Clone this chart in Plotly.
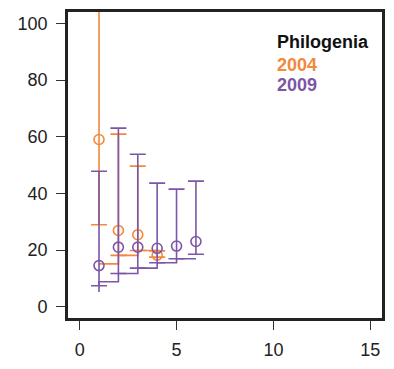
import plotly.graph_objects as go

# 2004 series
x_2004 = [1, 2, 3, 4]
mean_2004 = [59.0, 26.9, 25.4, 18.2]
low_2004 = [28.9, 18.1, 19.8, 17.5]
high_2004 = [112.0, 60.9, 49.6, 19.7]
step_2004 = [15.1, 18.1, 19.8, 19.8]

# 2009 series
x_2009 = [1, 2, 3, 4, 5, 6]
mean_2009 = [14.5, 21.0, 21.0, 20.6, 21.4, 23.0]
low_2009 = [7.4, 11.7, 13.6, 15.5, 16.9, 18.5]
high_2009 = [47.8, 63.0, 53.8, 43.6, 41.5, 44.3]
step_2009 = [5.2, 8.8, 11.7, 13.6, 15.5, 16.9]

x_ticks = [0, 5, 10, 15]
y_ticks = [0, 20, 40, 60, 80, 100]

ORANGE = "#F4883C"
PURPLE = "#7D55A6"

fig = go.Figure()

def add_series(xs, means, lows, highs, steps, color, shape):
    fig.add_trace(go.Scatter(
        x=xs, y=steps, mode="lines", line=dict(color=color, width=1.6, shape=shape),
        showlegend=False, hoverinfo="skip"))
    fig.add_trace(go.Scatter(
        x=xs, y=means, mode="markers",
        marker=dict(symbol="circle-open", size=10, color=color, line=dict(width=1.6, color=color)),
        error_y=dict(type="data", symmetric=False,
                     array=[h - m for h, m in zip(highs, means)],
                     arrayminus=[m - l for m, l in zip(means, lows)],
                     color=color, thickness=1.6, width=8),
        showlegend=False))

add_series(x_2004, mean_2004, low_2004, high_2004, step_2004, ORANGE, "hv")
add_series(x_2009, mean_2009, low_2009, high_2009, step_2009, PURPLE, "vh")

FONT = "Liberation Sans, Arial, sans-serif"

fig.add_annotation(x=10.1, y=93.5, text="<b>Philogenia</b>", showarrow=False,
                   xanchor="left", yanchor="middle", font=dict(family=FONT, size=18, color="#111"))
fig.add_annotation(x=10.1, y=85.3, text="<b>2004</b>", showarrow=False,
                   xanchor="left", yanchor="middle", font=dict(family=FONT, size=18, color=ORANGE))
fig.add_annotation(x=10.1, y=78.4, text="<b>2009</b>", showarrow=False,
                   xanchor="left", yanchor="middle", font=dict(family=FONT, size=18, color=PURPLE))

axis_common = dict(showgrid=False, zeroline=False, showline=True, mirror=True,
                   linecolor="#222", linewidth=2.7, ticks="outside", ticklen=9,
                   tickwidth=1.3, tickcolor="#333",
                   tickfont=dict(family=FONT, size=18, color="#222"))

fig.update_xaxes(range=[-0.6, 15.6], tickvals=x_ticks, ticktext=[str(v) for v in x_ticks],
                 ticklabelstandoff=5, **axis_common)
fig.update_yaxes(range=[-4, 104], tickvals=y_ticks, ticktext=[str(v) for v in y_ticks],
                 ticklabelstandoff=5, **axis_common)

fig.update_layout(width=394, height=369, margin=dict(l=68, r=12, t=9, b=48),
                  plot_bgcolor="white", paper_bgcolor="white")

fig.write_html("out.html")
